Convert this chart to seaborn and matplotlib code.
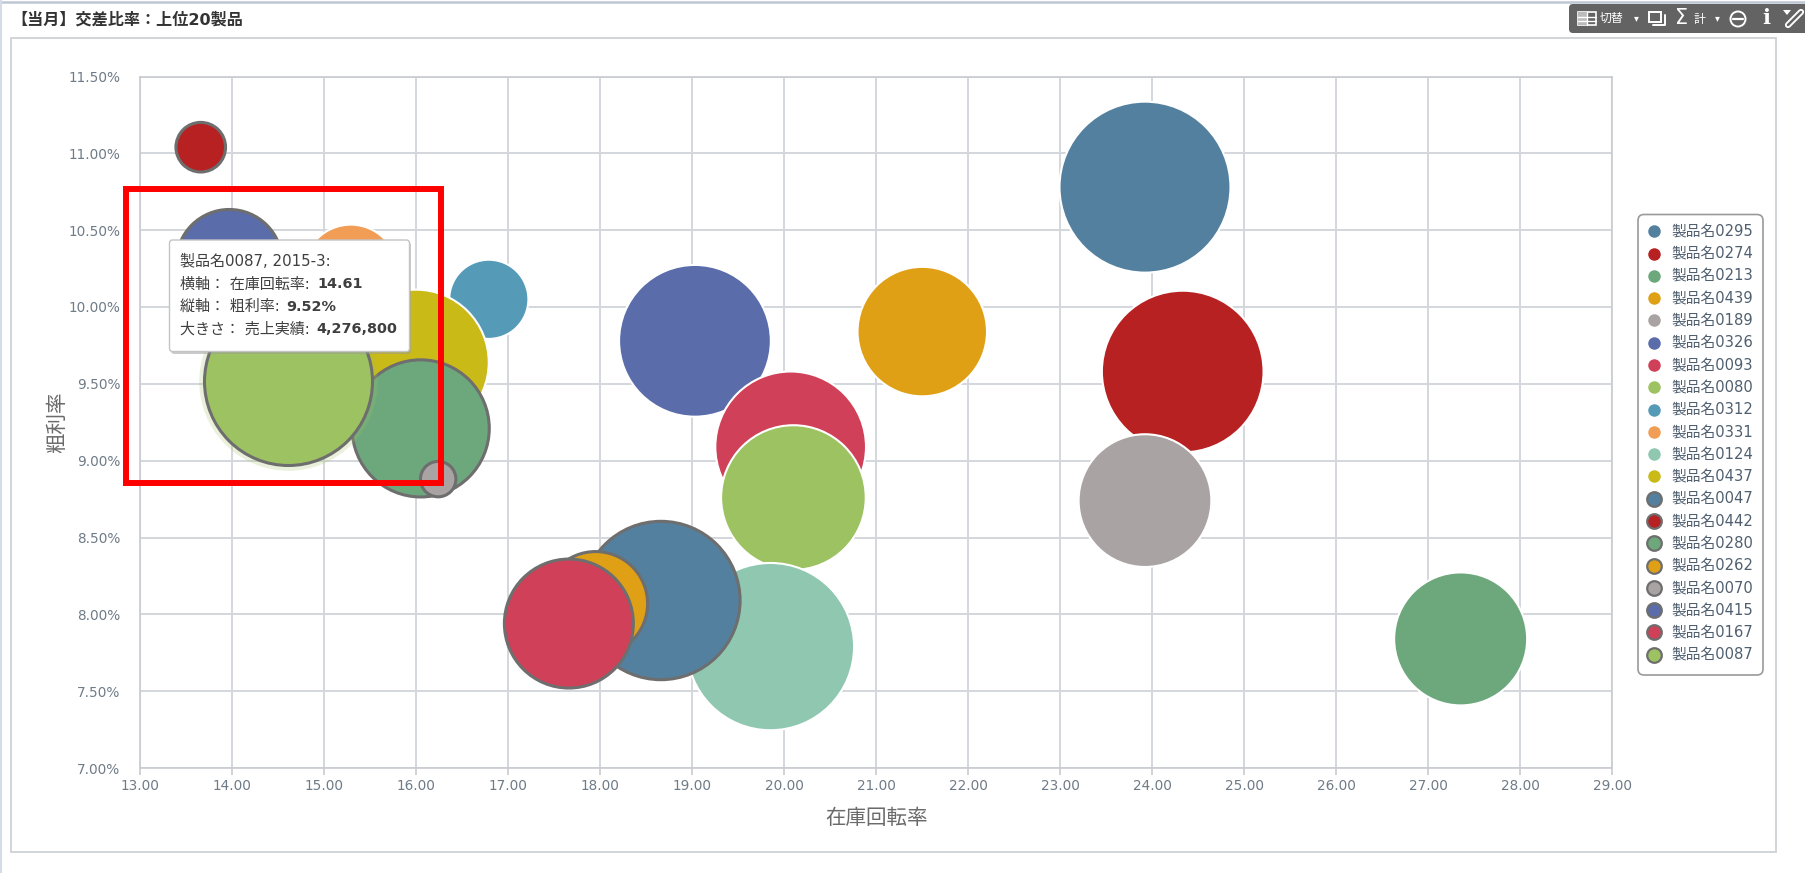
import numpy as np
import pandas as pd
import seaborn as sns
import matplotlib
matplotlib.use("Agg")
import matplotlib.pyplot as plt
from matplotlib.lines import Line2D
from matplotlib.patches import FancyBboxPatch, Rectangle, Circle, Polygon
from matplotlib.ticker import FuncFormatter

names_plain = ["製品名0295", "製品名0274", "製品名0213", "製品名0439", "製品名0189", "製品名0326",
               "製品名0093", "製品名0080", "製品名0312", "製品名0331", "製品名0124", "製品名0437"]
turnover_plain = [23.92, 24.33, 27.35, 21.50, 23.92, 19.03, 20.07, 20.10, 16.79, 15.29, 19.85, 16.00]
margin_plain = [10.78, 9.58, 7.84, 9.84, 8.74, 9.78, 9.09, 8.76, 10.05, 10.23, 7.79, 9.64]
sales_plain = [4430000, 3960000, 2680000, 2540000, 2670000, 3490000, 3440000, 3170000, 950000, 1340000, 4240000, 3200000]

names_hi = ["製品名0047", "製品名0442", "製品名0280", "製品名0262", "製品名0070", "製品名0415", "製品名0167", "製品名0087"]
turnover_hi = [18.66, 13.66, 16.05, 17.95, 16.24, 13.97, 17.66, 14.61]
margin_hi = [8.09, 11.04, 9.21, 8.07, 8.88, 10.29, 7.94, 9.52]
sales_hi = [3800000, 373000, 2850000, 1640000, 190000, 1700000, 2520000, 4276800]

colors_plain = ["#54809F", "#B72122", "#6DA87D", "#DFA015", "#A9A3A3", "#5A6CAA",
                "#D04058", "#9DC262", "#559BB8", "#F19D55", "#8FC7B0", "#C9BA17"]
colors_hi = ["#54809F", "#B72122", "#6DA87D", "#DFA015", "#A9A3A3", "#5A6CAA", "#D04058", "#9DC262"]

x_ticks = list(range(13, 30))
y_ticks = [7.0, 7.5, 8.0, 8.5, 9.0, 9.5, 10.0, 10.5, 11.0, 11.5]
title_text = "【当月】交差比率：上位20製品"
x_label = "在庫回転率"
y_label = "粗利率"
tooltip_head = "製品名0087, 2015-3:"
tooltip_rows = [("横軸： 在庫回転率:", "14.61"), ("縦軸： 粗利率:", "9.52%"), ("大きさ： 売上実績:", "4,276,800")]

sns.set_theme(style="white")
plt.rcParams["font.family"] = ["DejaVu Sans", "Noto Sans CJK JP"]

W, H = 1806, 873
fig = plt.figure(figsize=(W / 100, H / 100), dpi=100, facecolor="white")
ax = fig.add_axes([140 / W, 1 - 768 / H, (1612.5 - 140) / W, (768 - 76.5) / H])

# bubble area is proportional to sales: 4,276,800 gives a radius of 84 px
s_hl = (2 * 84 * 0.72) ** 2
norm_top = 6000000
norm = (0, norm_top)
smax = s_hl * norm_top / 4276800

df_plain = pd.DataFrame(dict(name=names_plain, x=turnover_plain, y=margin_plain, sales=sales_plain))
df_hi = pd.DataFrame(dict(name=names_hi, x=turnover_hi, y=margin_hi, sales=sales_hi))

sns.scatterplot(data=df_plain, x="x", y="y", hue="name", palette=dict(zip(names_plain, colors_plain)),
                size="sales", sizes=(0, smax), size_norm=norm, edgecolor="white", linewidth=1.5,
                alpha=1, legend=False, ax=ax, zorder=3, clip_on=False)
sns.scatterplot(data=df_hi.iloc[:-1], x="x", y="y", hue="name", palette=dict(zip(names_hi, colors_hi)),
                size="sales", sizes=(0, smax), size_norm=norm, edgecolor="#6E6E6E", linewidth=2.2,
                alpha=1, legend=False, ax=ax, zorder=4, clip_on=False)
# hover halo round the highlighted bubble
ax.scatter(df_hi.x.iloc[-1:], df_hi.y.iloc[-1:], s=s_hl * 1.13, color=colors_hi[-1], alpha=0.22,
           linewidth=0, zorder=5)
sns.scatterplot(data=df_hi.iloc[-1:], x="x", y="y", hue="name", palette=dict(zip(names_hi, colors_hi)),
                size="sales", sizes=(0, smax), size_norm=norm, edgecolor="#6E6E6E", linewidth=2.2,
                alpha=1, legend=False, ax=ax, zorder=6, clip_on=False)

ax.set_xlim(13, 29)
ax.set_ylim(7, 11.5)
ax.set_xticks(x_ticks)
ax.set_yticks(y_ticks)
ax.xaxis.set_major_formatter(FuncFormatter(lambda v, _: f"{v:.2f}"))
ax.yaxis.set_major_formatter(FuncFormatter(lambda v, _: f"{v:.2f}%"))
ax.grid(True, color="#D3D6DA", linewidth=1.4, zorder=0)
ax.set_axisbelow(True)
for sp in ax.spines.values():
    sp.set_color("#C8CBD0")
    sp.set_linewidth(1.2)
ax.tick_params(axis="x", length=5, width=1.2, color="#C8CBD0", labelsize=9.8, labelcolor="#6F7B87", pad=3, bottom=True)
ax.tick_params(axis="y", length=0, labelsize=9.8, labelcolor="#6F7B87", pad=14)
ax.set_xlabel(x_label, fontsize=14.8, color="#6A6A6A", labelpad=11)
ax.set_ylabel(y_label, fontsize=14.8, color="#6A6A6A", labelpad=1)

# legend
handles = [Line2D([], [], linestyle="", marker="o", markersize=9, markerfacecolor=c, markeredgecolor="none")
           for c in colors_plain]
handles += [Line2D([], [], linestyle="", marker="o", markersize=10.5, markerfacecolor=c,
                   markeredgecolor="#6E6E6E", markeredgewidth=1.6) for c in colors_hi]
leg = fig.legend(handles, names_plain + names_hi, loc="upper left", bbox_to_anchor=(1636 / W, 1 - 216 / H),
                 bbox_transform=fig.transFigure, borderaxespad=0, fontsize=10.6, labelcolor="#4F5F6F",
                 frameon=False, labelspacing=0.495, handletextpad=0.55, handlelength=1.3, borderpad=0.57)

# page furniture, tooltip and highlight in pixel coordinates
ov = fig.add_axes([0, 0, 1, 1], zorder=10)
ov.set_xlim(0, W)
ov.set_ylim(H, 0)
ov.axis("off")
ov.patch.set_alpha(0)

ov.add_patch(FancyBboxPatch((1638, 214.5), 125, 460.5, boxstyle="round,pad=0,rounding_size=6",
                            facecolor="none", edgecolor="#9A9A9A", linewidth=1.2))
ov.add_patch(Rectangle((11.5, 38), 1776 - 11.5, 852 - 38, fill=False, edgecolor="#CFD2D6", linewidth=1.3))
ov.plot([0, W], [2, 2], color="#BFC6D4", linewidth=1.8)
ov.plot([1, 1], [0, H], color="#D5DCE8", linewidth=1.5)
ov.text(11, 20, title_text, fontsize=11.6, fontweight="bold", color="#333333", va="center", ha="left")

# toolbar
ov.add_patch(FancyBboxPatch((1569, 4), 250, 29, boxstyle="round,pad=0,rounding_size=4",
                            facecolor="#636363", edgecolor="none"))
ov.add_patch(Rectangle((1578, 12), 18, 13, facecolor="none", edgecolor="white", linewidth=1.2))
ov.add_patch(Rectangle((1578, 12), 9, 13, facecolor="#BBBBBB", edgecolor="none"))
ov.plot([1587, 1587], [12, 25], color="white", lw=1)
ov.plot([1578, 1596], [16.5, 16.5], color="white", lw=1)
ov.plot([1578, 1596], [20.5, 20.5], color="white", lw=1)
ov.text(1600, 18.5, "切替", fontsize=8.6, color="white", va="center", ha="left")
ov.text(1636, 18.5, "▾", fontsize=7, color="white", va="center", ha="center")
ov.add_patch(Rectangle((1649, 12), 12, 10, facecolor="none", edgecolor="white", linewidth=1.4))
ov.plot([1665, 1665, 1653], [15, 25, 25], color="white", lw=1.4)
ov.text(1682, 17.5, "Σ", fontsize=15, color="white", va="center", ha="center")
ov.text(1699, 19, "計", fontsize=8.6, color="white", va="center", ha="center")
ov.text(1717, 18.5, "▾", fontsize=7, color="white", va="center", ha="center")
ov.add_patch(Circle((1738, 19), 7.5, facecolor="none", edgecolor="white", linewidth=1.4))
ov.plot([1733, 1743], [19, 19], color="white", lw=1.6)
ov.text(1766, 18, "i", fontsize=15, fontweight="bold", family="DejaVu Serif", color="white", va="center", ha="center")
ov.add_patch(Polygon([(1783, 10), (1791, 10), (1787, 15)], facecolor="white", edgecolor="none"))
ov.plot([1788, 1801], [25, 12], color="white", lw=4.5, solid_capstyle="round")
ov.plot([1788, 1801], [25, 12], color="#636363", lw=1.8, solid_capstyle="round")

# highlight rectangle
ov.add_patch(Rectangle((126, 189), 315, 294, fill=False, edgecolor="#FF0000", linewidth=4.3, zorder=3))

# tooltip
ov.add_patch(FancyBboxPatch((171, 242), 240, 112, boxstyle="round,pad=0,rounding_size=3",
                            facecolor="#999999", edgecolor="none", alpha=0.5, zorder=4))
ov.add_patch(FancyBboxPatch((169.5, 240), 240, 111.5, boxstyle="round,pad=0,rounding_size=3",
                            facecolor="white", edgecolor="#C4C4C4", linewidth=1, zorder=5))
tip_style = dict(color="#3F3F3F", va="center", ha="left", zorder=6)
ov.text(180.5, 261.7, tooltip_head, fontsize=10.85, **tip_style)
for (label, value), yp, xb in zip(tooltip_rows, [284.3, 306.7, 329.3], [317.3, 286.7, 316.7]):
    ov.text(180.5, yp, label, fontsize=10.85, **tip_style)
    ov.text(xb, yp, value, fontsize=10.4, fontweight="bold", **tip_style)

fig.savefig("out.png", dpi=100)
